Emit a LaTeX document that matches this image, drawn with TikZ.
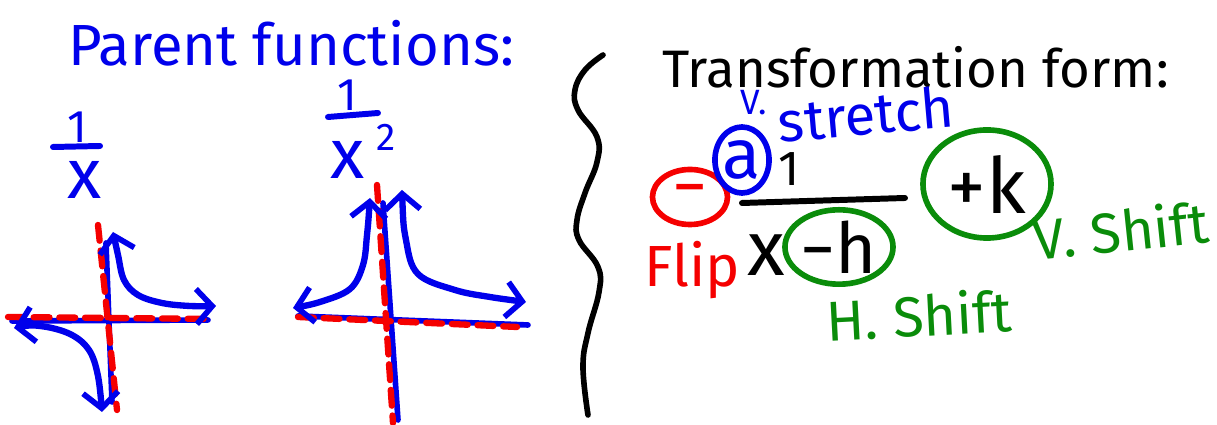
\documentclass[tikz,border=0pt]{standalone}
\usepackage{fontspec}
\setmainfont{Fira Sans}
\usetikzlibrary{arrows.meta,shapes.geometric}
\definecolor{penblue}{RGB}{0,0,235}
\definecolor{penred}{RGB}{245,0,0}
\definecolor{pengreen}{RGB}{10,140,10}
\tikzset{
  barb/.tip={Straight Barb[length=4.5pt,width=10pt,line width=1.6pt]},
  branch/.style={penblue, line width=1.8pt, barb-barb},
  axisline/.style={penblue, line width=1.6pt},
  asym/.style={penred, line width=1.8pt, dash pattern=on 4.5pt off 2.8pt},
  ring/.style={ellipse, draw, line width=1.6pt, inner sep=0pt},
}
\newcommand{\pensize}[1]{\fontsize{#1}{#1}\selectfont}
\begin{document}
\begin{tikzpicture}[x=0.01cm, y=-0.01cm, line cap=round, line join=round, inner sep=1pt]
\useasboundingbox (0,0) rectangle (1217,425);

% Ueberschriften
\node[penblue, font=\pensize{16.5}, anchor=base west] (parent) at (64,66) {Parent functions:};
\node[font=\pensize{15}, anchor=base west] (form) at (658,88) {Transformation form:};

% Graph 1/x
\node[penblue, font=\pensize{13}] (numA) at (77,127) {1};
\draw[penblue, line width=1.7pt] (53,147) -- (100,146);
\node[penblue, font=\pensize{20}] (denA) at (85,180) {x};
\draw[axisline] (12,321) -- (208,320);
\draw[axisline] (106,243) -- (112,402);
\draw[asym] (8,317) -- (213,319);
\draw[asym] (98,225) -- (117,410);
\draw[branch] plot[smooth, tension=0.6] coordinates {(113,232) (118,255) (124,280) (138,295) (162,303) (190,306) (216,306)};
\draw[branch] plot[smooth, tension=0.6] coordinates {(14,328) (40,326) (70,334) (89,350) (98,376) (102,412)};

% Graph 1/x^2
\node[penblue, font=\pensize{13}] (numB) at (347,95) {1};
\draw[penblue, line width=1.7pt] (328,117) -- (378,113);
\node[penblue, font=\pensize{20}] (denB) at (348,160) {x};
\node[penblue, font=\pensize{11}] (powB) at (386,137) {2};
\draw[axisline] (298,316) -- (528,325);
\draw[axisline] (383,203) -- (398,420);
\draw[asym] (298,317) -- (517,327);
\draw[asym] (377,185) -- (393,423);
\draw[branch] plot[smooth, tension=0.6] coordinates {(370,198) (367,235) (363,265) (350,289) (320,302) (293,308)};
\draw[branch] plot[smooth, tension=0.6] coordinates {(402,190) (406,240) (418,274) (455,290) (490,297) (526,302)};

% Klammer
\draw[line width=1.6pt] plot[smooth, tension=0.7] coordinates {(603,55) (585,70) (575,90) (578,110) (597,137) (597,162) (585,193) (577,220) (579,240) (598,267) (599,292) (588,333) (583,367) (588,415)};

% Transformationsform
\node[ring, draw=penred, text=penred, minimum width=0.75cm, minimum height=0.55cm, font=\pensize{20}] (flip) at (690,197) {−};
\node[ring, draw=penblue, text=penblue, minimum width=0.5cm, minimum height=0.66cm, font=\pensize{20}] (stretchA) at (742,160) {a};
\node[font=\pensize{14}] (numC) at (789,169) {1};
\draw[line width=1.7pt] (742,203) -- (905,198);
\node[font=\pensize{22}] (denC) at (766,255) {x};
\node[ring, draw=pengreen, minimum width=1.08cm, minimum height=0.74cm, font=\pensize{20}] (hshift) at (839,247) {−h};
\node[ring, draw=pengreen, minimum width=1.28cm, minimum height=1.08cm, font=\pensize{22}] (vshift) at (987,184) {+k};

% Beschriftungen
\node[penblue, font=\pensize{10}] (vlab) at (754,103) {V.};
\node[penblue, font=\pensize{16}, rotate=5] (stretch) at (866,114) {stretch};
\node[penred, font=\pensize{16.5}] (fliplab) at (692,270) {Flip};
\node[pengreen, font=\pensize{16}, rotate=3] (hlab) at (919,315) {H. Shift};
\node[pengreen, font=\pensize{16}, rotate=6] (vlabB) at (1121,230) {V. Shift};
\end{tikzpicture}
\end{document}
